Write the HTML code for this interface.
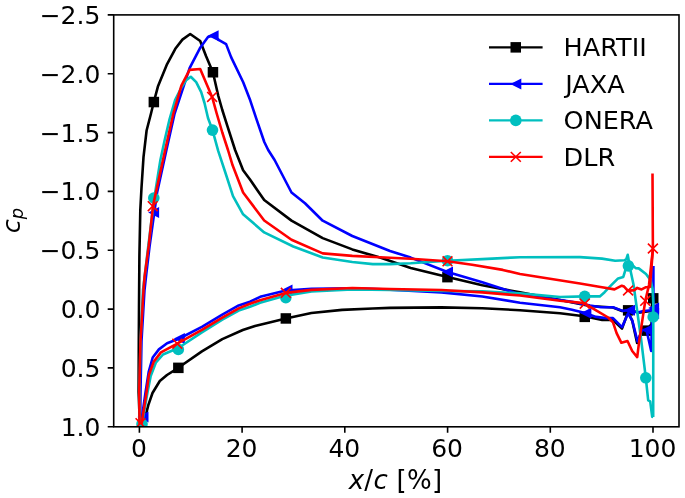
<!DOCTYPE html>
<html lang="en"><head><meta charset="utf-8"><title>Cp distribution</title>
<style>html,body{margin:0;padding:0;background:#fff}svg{display:block;filter:blur(0.45px)}text{font-family:"DejaVu Sans","Liberation Sans",sans-serif;fill:#000}</style></head><body>
<svg width="685" height="498" viewBox="0 0 685 498">
<rect width="685" height="498" fill="#fff"/>
<defs><clipPath id="ax"><rect x="113.7" y="14.9" width="565.3" height="411.90000000000003"/></clipPath></defs>
<g clip-path="url(#ax)">
<polyline points="139.8,423.0 138.6,392.0 138.8,340.0 139.0,307.0 139.4,256.0 140.3,210.0 141.5,187.8 143.5,157.1 146.6,130.5 151.0,113.5 153.8,102.0 157.9,86.6 167.1,64.1 175.3,48.8 182.4,39.6 190.2,34.0 200.2,41.0 206.0,56.0 212.9,72.3 218.2,95.5 222.3,110.0 227.5,126.4 235.1,150.0 243.1,170.2 250.0,179.5 257.2,190.0 264.2,200.0 291.5,220.6 322.7,238.1 352.3,249.4 380.0,257.6 410.7,267.9 447.5,277.1 482.3,285.3 520.0,292.4 560.0,300.0 590.0,306.0 613.0,307.5 622.0,311.0 628.0,310.3 640.0,312.5 651.0,311.0 653.2,298.4" fill="none" stroke="#000000" stroke-width="2.6" stroke-linejoin="round" stroke-linecap="butt"/>
<polyline points="140.5,424.0 144.1,423.0 145.9,414.8 148.3,405.1 152.5,393.0 159.8,381.0 167.0,375.0 178.3,367.8 201.9,351.4 222.3,339.1 242.8,330.0 255.0,326.0 270.5,322.2 285.8,318.5 311.4,313.0 342.1,309.9 372.8,308.5 390.0,307.9 441.4,307.4 482.3,308.2 520.0,310.2 560.0,313.3 584.1,316.3 602.2,320.0 613.0,320.0 622.0,328.5 628.1,312.0 632.3,321.0 637.1,343.0 642.0,331.0 646.2,330.7 651.5,324.0 653.2,298.4" fill="none" stroke="#000000" stroke-width="2.6" stroke-linejoin="round" stroke-linecap="butt"/>
<rect x="148.6" y="96.8" width="10.5" height="10.5" fill="#000000"/>
<rect x="207.7" y="67.0" width="10.5" height="10.5" fill="#000000"/>
<rect x="442.2" y="271.9" width="10.5" height="10.5" fill="#000000"/>
<rect x="173.1" y="362.6" width="10.5" height="10.5" fill="#000000"/>
<rect x="280.6" y="313.2" width="10.5" height="10.5" fill="#000000"/>
<rect x="579.5" y="311.6" width="10.5" height="10.5" fill="#000000"/>
<rect x="622.9" y="305.1" width="10.5" height="10.5" fill="#000000"/>
<rect x="641.0" y="325.4" width="10.5" height="10.5" fill="#000000"/>
<rect x="648.0" y="293.1" width="10.5" height="10.5" fill="#000000"/>
<polyline points="140.2,424.0 140.5,392.0 141.5,341.0 144.5,290.0 146.0,276.6 149.6,246.0 154.6,210.3 157.2,191.9 166.2,150.9 174.6,113.5 189.6,68.2 200.0,48.1 208.0,37.1 213.1,35.5 219.1,40.1 226.1,44.1 231.1,57.1 243.2,82.2 250.2,100.3 256.2,118.4 264.3,142.0 268.2,150.0 274.6,160.0 291.5,192.5 305.0,203.3 322.7,220.7 352.3,236.0 390.0,251.0 410.7,257.6 447.5,272.0 482.3,282.2 520.0,294.5 560.0,300.0 572.0,301.9 590.1,305.5 601.0,307.3 613.0,307.3 622.7,310.9 628.0,310.3 637.8,312.4 643.4,311.0 651.8,310.3 653.4,311.0 653.4,266.0" fill="none" stroke="#0000ff" stroke-width="2.6" stroke-linejoin="round" stroke-linecap="butt"/>
<polyline points="141.0,424.0 145.6,391.9 148.7,371.9 152.7,357.5 158.9,349.4 167.1,343.2 179.4,338.5 201.9,326.8 222.3,314.6 238.7,305.4 250.0,301.7 260.2,296.8 285.8,290.5 311.4,288.8 352.3,288.4 390.0,289.6 441.4,292.4 482.3,296.5 520.0,302.7 560.0,307.3 572.0,309.7 584.1,312.7 596.1,316.9 605.8,318.1 613.0,318.1 622.0,327.2 628.1,313.3 632.3,320.5 637.5,341.4 642.0,330.0 646.5,330.0 651.2,351.0 652.0,322.0 653.4,311.0" fill="none" stroke="#0000ff" stroke-width="2.6" stroke-linejoin="round" stroke-linecap="butt"/>
<polygon points="137.5,417.0 148.5,411.5 148.5,422.5" fill="#0000ff"/>
<polygon points="148.1,212.6 159.1,207.1 159.1,218.1" fill="#0000ff"/>
<polygon points="207.6,35.7 218.6,30.2 218.6,41.2" fill="#0000ff"/>
<polygon points="442.0,272.0 453.0,266.5 453.0,277.5" fill="#0000ff"/>
<polygon points="173.9,338.5 184.9,333.0 184.9,344.0" fill="#0000ff"/>
<polygon points="281.5,289.9 292.5,284.4 292.5,295.4" fill="#0000ff"/>
<polygon points="580.4,313.3 591.4,307.8 591.4,318.8" fill="#0000ff"/>
<polygon points="624.0,310.3 635.0,304.8 635.0,315.8" fill="#0000ff"/>
<polygon points="641.4,330.0 652.4,324.5 652.4,335.5" fill="#0000ff"/>
<polygon points="648.1,308.0 659.1,302.5 659.1,313.5" fill="#0000ff"/>
<polygon points="648.1,313.4 659.1,307.9 659.1,318.9" fill="#0000ff"/>
<polyline points="140.0,424.0 139.5,392.0 140.5,341.0 143.0,290.0 148.3,246.0 154.3,198.0 158.0,175.0 160.4,160.0 164.7,140.0 169.3,120.2 175.1,100.2 181.1,88.1 186.2,80.1 190.8,76.8 196.2,82.1 201.2,92.1 204.5,103.0 208.0,118.0 212.5,130.1 218.2,150.9 225.0,171.5 233.0,196.2 243.1,214.3 264.2,232.4 293.3,246.5 322.7,257.5 352.3,262.0 372.8,264.1 390.0,264.1 410.7,263.2 447.5,260.7 482.3,259.1 520.0,257.2 580.0,257.1 602.0,258.6 615.2,260.8 624.6,260.3 626.3,259.2 627.7,254.8 629.0,262.0 635.7,268.1 638.7,268.4 646.0,274.0 650.4,279.9 652.6,288.7 653.3,303.0 653.2,417.0" fill="none" stroke="#00bfbf" stroke-width="2.6" stroke-linejoin="round" stroke-linecap="butt"/>
<polyline points="142.0,424.0 147.6,391.9 150.7,376.0 155.8,362.7 163.0,354.5 178.3,348.0 201.9,332.4 222.3,319.7 238.7,310.5 250.0,306.8 260.0,302.7 285.8,295.6 311.4,291.5 352.3,289.4 390.0,289.9 441.4,291.0 482.3,291.4 520.0,293.4 560.0,297.0 584.7,296.4 599.8,296.4 604.6,292.2 609.3,287.2 618.1,278.4 623.3,276.9 625.5,269.6 628.4,264.0 630.6,271.1 633.6,285.0 641.2,340.0 645.8,377.8 648.2,400.4 650.2,401.4 652.2,416.8 653.2,417.0" fill="none" stroke="#00bfbf" stroke-width="2.6" stroke-linejoin="round" stroke-linecap="butt"/>
<circle cx="142.0" cy="424.0" r="5.8" fill="#00bfbf"/>
<circle cx="153.8" cy="198.0" r="5.8" fill="#00bfbf"/>
<circle cx="212.5" cy="130.1" r="5.8" fill="#00bfbf"/>
<circle cx="447.5" cy="260.7" r="5.8" fill="#00bfbf"/>
<circle cx="178.3" cy="349.4" r="5.8" fill="#00bfbf"/>
<circle cx="285.8" cy="297.6" r="5.8" fill="#00bfbf"/>
<circle cx="584.7" cy="296.4" r="5.8" fill="#00bfbf"/>
<circle cx="628.4" cy="265.9" r="5.8" fill="#00bfbf"/>
<circle cx="645.8" cy="377.8" r="5.8" fill="#00bfbf"/>
<circle cx="653.2" cy="317.0" r="5.8" fill="#00bfbf"/>
<polyline points="139.6,424.0 139.2,392.0 140.5,341.2 143.5,290.0 144.6,276.6 148.7,245.9 152.7,209.1 153.8,202.1 165.0,150.9 173.5,113.0 181.4,85.6 189.6,69.9 200.2,69.0 212.1,96.9 216.7,113.5 222.3,132.5 228.0,150.0 232.6,165.3 243.1,192.5 264.2,220.5 291.5,239.8 322.7,253.4 352.3,255.9 380.0,257.2 410.7,258.7 447.5,261.3 472.1,264.8 502.8,269.9 520.0,274.0 580.0,283.5 602.0,287.2 614.5,289.4 621.8,285.7 624.0,286.5 627.9,290.9 634.3,290.1 637.2,287.9 641.6,289.4 646.0,287.2 650.0,287.0 652.9,249.0 652.5,173.5" fill="none" stroke="#ff0000" stroke-width="2.6" stroke-linejoin="round" stroke-linecap="butt"/>
<polyline points="140.5,424.0 141.7,423.2 146.6,391.9 148.9,375.0 153.8,361.6 160.9,352.4 177.3,343.6 201.9,329.9 222.3,317.6 238.7,308.4 250.0,303.8 260.0,300.2 285.8,292.9 311.4,289.9 352.3,288.0 390.0,289.0 441.4,290.0 482.3,292.4 520.0,295.5 560.0,300.7 584.1,303.1 596.1,310.3 608.2,317.5 613.0,322.3 616.6,333.2 621.4,342.8 627.5,341.0 632.2,351.0 637.2,357.1 639.2,341.2 643.4,313.1 645.3,300.9 649.0,285.0 652.9,249.0" fill="none" stroke="#ff0000" stroke-width="2.6" stroke-linejoin="round" stroke-linecap="butt"/>
<path d="M135.6 418.2L145.4 428.1M135.6 428.1L145.4 418.2" stroke="#ff0000" stroke-width="1.6" fill="none"/>
<path d="M147.8 201.2L157.6 211.1M147.8 211.1L157.6 201.2" stroke="#ff0000" stroke-width="1.6" fill="none"/>
<path d="M207.2 92.0L217.0 101.9M207.2 101.9L217.0 92.0" stroke="#ff0000" stroke-width="1.6" fill="none"/>
<path d="M442.6 256.4L452.4 266.2M442.6 266.2L452.4 256.4" stroke="#ff0000" stroke-width="1.6" fill="none"/>
<path d="M172.4 338.7L182.2 348.6M172.4 348.6L182.2 338.7" stroke="#ff0000" stroke-width="1.6" fill="none"/>
<path d="M280.9 287.9L290.8 297.8M280.9 297.8L290.8 287.9" stroke="#ff0000" stroke-width="1.6" fill="none"/>
<path d="M579.8 298.8L589.7 308.6M579.8 308.6L589.7 298.8" stroke="#ff0000" stroke-width="1.6" fill="none"/>
<path d="M623.1 285.6L633.1 295.4M623.1 295.4L633.1 285.6" stroke="#ff0000" stroke-width="1.6" fill="none"/>
<path d="M640.3 295.9L650.2 305.8M640.3 305.8L650.2 295.9" stroke="#ff0000" stroke-width="1.6" fill="none"/>
<path d="M647.9 243.6L657.9 253.4M647.9 253.4L657.9 243.6" stroke="#ff0000" stroke-width="1.6" fill="none"/>
</g>
<path d="M139.4 426.8V432.8M242.1 426.8V432.8M344.8 426.8V432.8M447.6 426.8V432.8M550.3 426.8V432.8M653.0 426.8V432.8M113.7 14.9H107.7M113.7 73.7H107.7M113.7 132.6H107.7M113.7 191.4H107.7M113.7 250.2H107.7M113.7 309.1H107.7M113.7 367.9H107.7M113.7 426.7H107.7" stroke="#000" stroke-width="1.6" fill="none"/>
<rect x="113.7" y="14.9" width="565.3" height="411.90000000000003" fill="none" stroke="#000" stroke-width="1.6"/>
<text x="139.4" y="457.1" font-size="25.0" text-anchor="middle" dx="-0.5">0</text>
<text x="242.1" y="457.1" font-size="25.0" text-anchor="middle" dx="-0.5">20</text>
<text x="344.8" y="457.1" font-size="25.0" text-anchor="middle" dx="-0.5">40</text>
<text x="447.6" y="457.1" font-size="25.0" text-anchor="middle" dx="-0.5">60</text>
<text x="550.3" y="457.1" font-size="25.0" text-anchor="middle" dx="-0.5">80</text>
<text x="653.0" y="457.1" font-size="25.0" text-anchor="middle" dx="-0.5">100</text>
<text x="100.4" y="23.8" font-size="25.0" text-anchor="end">−2.5</text>
<text x="100.4" y="82.6" font-size="25.0" text-anchor="end">−2.0</text>
<text x="100.4" y="141.5" font-size="25.0" text-anchor="end">−1.5</text>
<text x="100.4" y="200.3" font-size="25.0" text-anchor="end">−1.0</text>
<text x="100.4" y="259.1" font-size="25.0" text-anchor="end">−0.5</text>
<text x="100.4" y="317.9" font-size="25.0" text-anchor="end">0.0</text>
<text x="100.4" y="376.8" font-size="25.0" text-anchor="end">0.5</text>
<text x="100.4" y="435.6" font-size="25.0" text-anchor="end">1.0</text>
<text x="395.6" y="489" font-size="26" letter-spacing="0.3" text-anchor="middle"><tspan font-style="italic">x</tspan>/<tspan font-style="italic">c</tspan> [%]</text>
<text transform="translate(20.2,220.6) rotate(-90)" font-size="25.5" text-anchor="middle" font-style="italic">c<tspan font-size="18" dy="2.4">p</tspan></text>
<path d="M489 47.4H542.6" stroke="#000000" stroke-width="2.2" fill="none"/>
<rect x="510.5" y="42.1" width="10.5" height="10.5" fill="#000000"/>
<text x="563.6" y="56.4" font-size="25.5">HARTII</text>
<path d="M489 83.9H542.6" stroke="#0000ff" stroke-width="2.2" fill="none"/>
<polygon points="510.3,83.9 521.3,78.4 521.3,89.4" fill="#0000ff"/>
<text x="565.2" y="92.9" font-size="25.5">JAXA</text>
<path d="M489 120.4H542.6" stroke="#00bfbf" stroke-width="2.2" fill="none"/>
<circle cx="515.8" cy="120.4" r="5.8" fill="#00bfbf"/>
<text x="563.6" y="129.4" font-size="25.5">ONERA</text>
<path d="M489 156.9H542.6" stroke="#ff0000" stroke-width="2.2" fill="none"/>
<path d="M510.8 152.0L520.8 161.8M510.8 161.8L520.8 152.0" stroke="#ff0000" stroke-width="1.6" fill="none"/>
<text x="563.6" y="165.9" font-size="25.5">DLR</text>
</svg></body></html>
